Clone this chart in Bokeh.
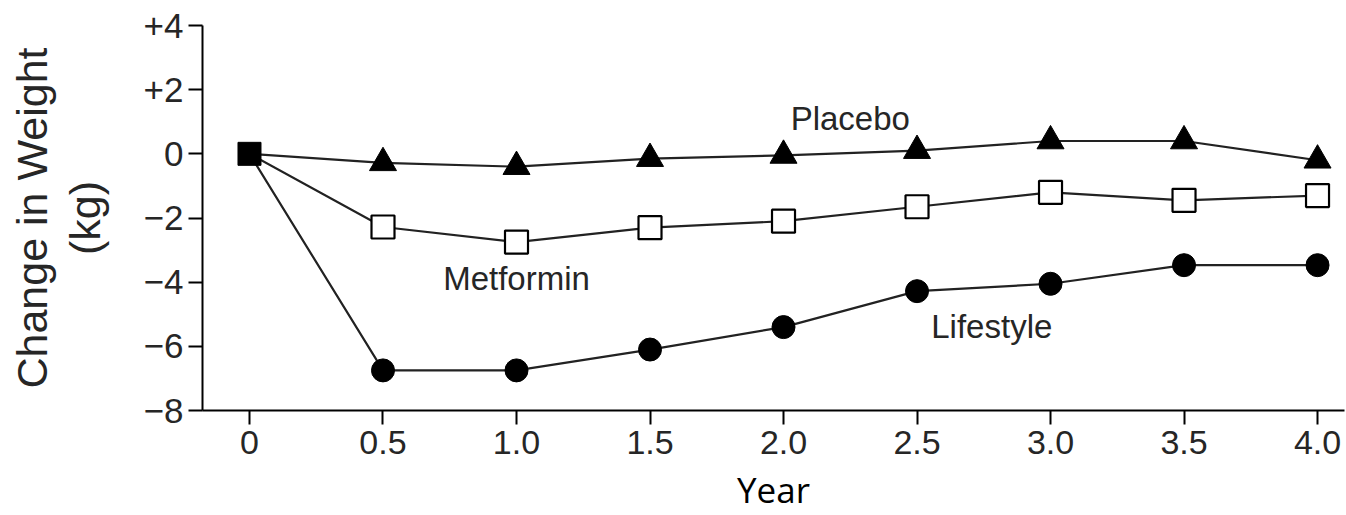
from bokeh.plotting import figure
from bokeh.models import FixedTicker, Range1d
from bokeh.core.properties import value
from bokeh.embed import file_html
from bokeh.resources import INLINE

# ---- data ----
years = [0.5, 1.0, 1.5, 2.0, 2.5, 3.0, 3.5, 4.0]
placebo = [-0.28, -0.4, -0.15, -0.05, 0.1, 0.4, 0.4, -0.2]
metformin = [-2.28, -2.75, -2.3, -2.1, -1.65, -1.2, -1.45, -1.3]
lifestyle = [-6.75, -6.75, -6.1, -5.4, -4.28, -4.05, -3.47, -3.47]
baseline_year = [0.0]
baseline_value = [0.0]

x_ticks = [0, 0.5, 1.0, 1.5, 2.0, 2.5, 3.0, 3.5, 4.0]
x_tick_labels = ["0", "0.5", "1.0", "1.5", "2.0", "2.5", "3.0", "3.5", "4.0"]
y_ticks = [-8, -6, -4, -2, 0, 2, 4]
y_tick_labels = ["\u22128", "\u22126", "\u22124", "\u22122", "0", "+2", "+4"]

series_names = ["Placebo", "Metformin", "Lifestyle"]
name_x = [2.25, 1.0, 2.78]
name_y = [1.09, -3.88, -5.38]

LINE = "#222222"
TXT = "#262626"

p = figure(width=1346, height=515, output_backend="svg", toolbar_location=None,
           x_range=Range1d(-0.176, 4.101), y_range=Range1d(-8, 4),
           min_border_left=202, min_border_right=2, min_border_top=25,
           min_border_bottom=105)
p.outline_line_color = None
p.grid.grid_line_color = None
p.background_fill_color = "white"

for vals in (placebo, metformin, lifestyle):
    p.line(baseline_year + years, baseline_value + vals, line_color=LINE, line_width=2.2)

p.scatter(years, placebo, marker="triangle", size=27, fill_color="black",
          line_color="black", line_width=1)
p.scatter(years, metformin, marker="square", size=23, fill_color="white",
          line_color="black", line_width=2.2)
p.scatter(years, lifestyle, marker="circle", size=23, fill_color="black",
          line_color="black", line_width=1)
p.scatter(baseline_year, baseline_value, marker="square", size=23, fill_color="black",
          line_color="black", line_width=1)

p.text(name_x, name_y, text=series_names, text_align="center", text_baseline="middle",
       text_font=value("Liberation Sans"), text_font_size="33px", text_color=TXT)

# axes
p.xaxis.ticker = FixedTicker(ticks=x_ticks)
p.xaxis.major_label_overrides = {t: l for t, l in zip(x_ticks, x_tick_labels)}
p.yaxis.ticker = FixedTicker(ticks=y_ticks)
p.yaxis.major_label_overrides = {t: l for t, l in zip(y_ticks, y_tick_labels)}

for ax in (p.xaxis, p.yaxis):
    ax.axis_line_color = "black"
    ax.axis_line_width = 2
    ax.major_tick_line_color = "black"
    ax.major_tick_line_width = 2
    ax.minor_tick_line_color = None
    ax.major_tick_in = 0
    ax.major_label_text_font = "Liberation Sans"
    ax.major_label_text_color = TXT

p.xaxis.major_tick_out = 14
p.yaxis.major_tick_out = 14
p.xaxis.major_label_text_font_size = "34px"
p.yaxis.major_label_text_font_size = "35px"
p.xaxis.major_label_standoff = 6
p.yaxis.major_label_standoff = 5

p.xaxis.axis_label = "Year"
p.xaxis.axis_label_text_font = "Open Sans"
p.xaxis.axis_label_text_font_style = "normal"
p.xaxis.axis_label_text_font_size = "35px"
p.xaxis.axis_label_text_color = "black"
p.xaxis.axis_label_standoff = 9

p.yaxis.axis_label = "Change in Weight\n(kg)"
p.yaxis.axis_label_text_font = "Liberation Sans"
p.yaxis.axis_label_text_font_style = "normal"
p.yaxis.axis_label_text_font_size = "43px"
p.yaxis.axis_label_text_color = TXT
p.yaxis.axis_label_text_line_height = 1.1
p.yaxis.axis_label_standoff = 32

open("out.html", "w").write(file_html(p, INLINE))
